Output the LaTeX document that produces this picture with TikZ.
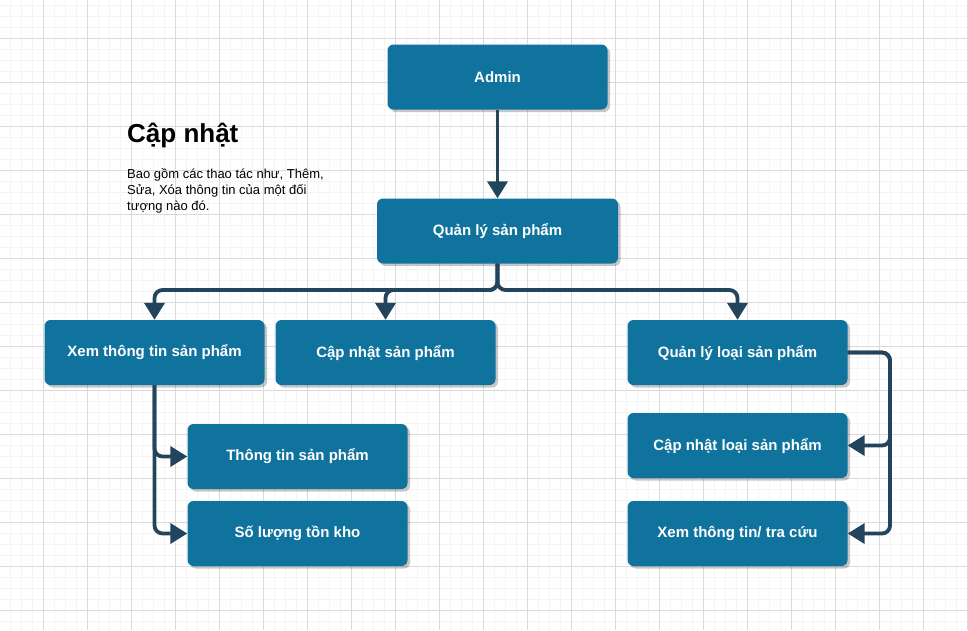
\documentclass[tikz,border=0pt]{standalone}
\usepackage{fontspec}
\setmainfont{Liberation Sans}
\usetikzlibrary{arrows.meta,shadows}

\definecolor{boxblue}{HTML}{10739E}
\definecolor{linknavy}{HTML}{23445D}
\definecolor{gridminor}{HTML}{F4F4F4}
\definecolor{gridmajor}{HTML}{DADADA}

\tikzset{
  box/.style={rectangle, rounded corners=6pt, fill=boxblue, text=white,
    minimum width=220pt, minimum height=65pt, inner sep=2pt,
    font=\fontsize{15}{18}\selectfont\bfseries,
    drop shadow={shadow xshift=2.5pt, shadow yshift=-2.5pt, fill=black, opacity=0.22}},
  link/.style={draw=linknavy, line width=3.8pt, rounded corners=8pt,
    -{Triangle[width=20pt,length=17pt]}}
}

\begin{document}
\begin{tikzpicture}[x=1pt, y=-1pt]
% Canvas and the grid behind it
\useasboundingbox (0,0) rectangle (968,630);
\fill[white] (0,0) rectangle (968,630);
\foreach \gx in {10,21,...,967} \draw[gridminor, line width=0.7pt] (\gx,0) -- (\gx,630);
\foreach \gy in {5,16,...,629} \draw[gridminor, line width=0.7pt] (0,\gy) -- (968,\gy);
\foreach \gx in {43,87,...,967} \draw[gridmajor, line width=0.7pt] (\gx,0) -- (\gx,630);
\foreach \gy in {38,82,...,629} \draw[gridmajor, line width=0.7pt] (0,\gy) -- (968,\gy);

% Note on the left
\node[anchor=base west, inner sep=0pt, font=\fontsize{26}{30}\selectfont\bfseries] (notetitle) at (127,142) {Cập nhật};
\node[anchor=base west, inner sep=0pt, align=left, font=\fontsize{13}{16}\selectfont] (notetext) at (127,210)
  {Bao gồm các thao tác như, Thêm,\\Sửa, Xóa thông tin của một đối\\tượng nào đó.};

% Boxes
\node[box] (admin) at (497.5,77) {Admin};
\node[box, minimum width=241pt] (qlsp) at (497.5,231) {Quản lý sản phẩm};
\node[box] (xemsp) at (154.5,352.5) {Xem thông tin sản phẩm};
\node[box] (capsp) at (385.5,352.5) {Cập nhật sản phẩm};
\node[box] (qlloai) at (737.5,352.5) {Quản lý loại sản phẩm};
\node[box] (ttsp) at (297.5,456.5) {Thông tin sản phẩm};
\node[box] (tonkho) at (297.5,533.5) {Số lượng tồn kho};
\node[box] (caploai) at (737.5,445.5) {Cập nhật loại sản phẩm};
\node[box] (xemloai) at (737.5,533.5) {Xem thông tin/ tra cứu};

% Connectors
\coordinate (bus) at (497.5,290);
\coordinate (rtrunk) at (890,352.5);
\draw[link] (admin) -- (qlsp);
\draw[link] (qlsp.south) -- (bus) -| (xemsp.north);
\draw[link] (qlsp.south) -- (bus) -| (capsp.north);
\draw[link] (qlsp.south) -- (bus) -| (qlloai.north);
\draw[link] (xemsp.south) |- (ttsp.west);
\draw[link] (xemsp.south) |- (tonkho.west);
\draw[link] (qlloai.east) -- (rtrunk) |- (caploai.east);
\draw[link] (qlloai.east) -- (rtrunk) |- (xemloai.east);
\end{tikzpicture}
\end{document}
